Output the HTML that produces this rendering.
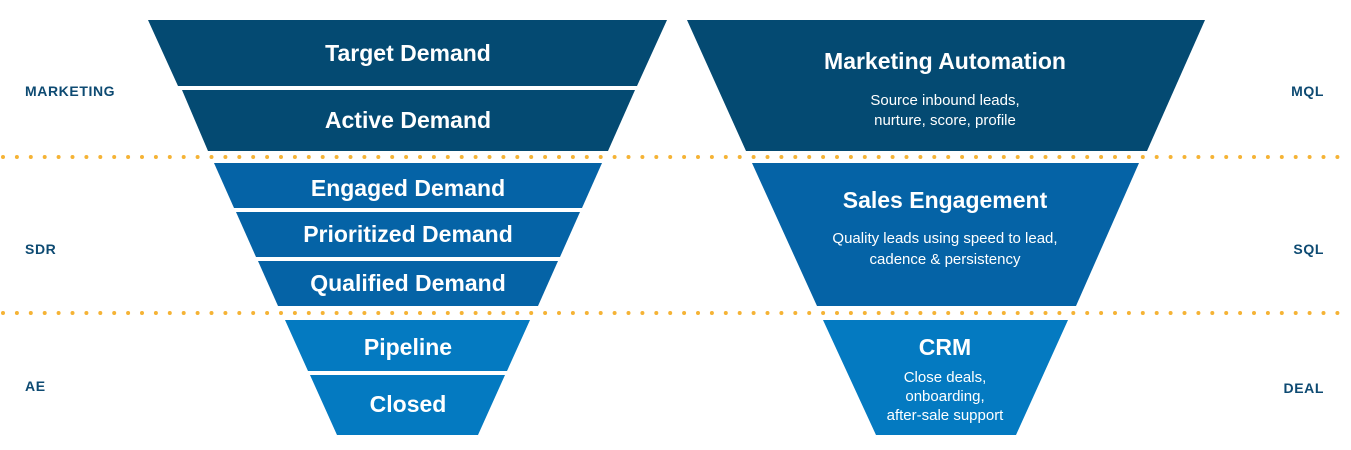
<!DOCTYPE html>
<html><head><meta charset="utf-8"><style>
html,body{margin:0;padding:0;background:#fff;}
svg{display:block;}
text{font-family:"Liberation Sans",sans-serif;fill:#fff;text-anchor:middle;}
.t{font-weight:bold;font-size:23px;}
.s{font-size:15px;}
.l{fill:#0d4a72;font-weight:bold;font-size:14px;letter-spacing:0.6px;}
</style></head><body>
<svg width="1351" height="450" viewBox="0 0 1351 450">
<line x1="3" y1="157" x2="1351" y2="157" stroke="#f5b335" stroke-width="4" stroke-linecap="round" stroke-dasharray="0 13.9"/>
<line x1="3" y1="313" x2="1351" y2="313" stroke="#f5b335" stroke-width="4" stroke-linecap="round" stroke-dasharray="0 13.9"/>

<polygon points="148,20 667,20 637,86 178,86" fill="#044a72"/>
<polygon points="182,90 635,90 608,151 208,151" fill="#044a72"/>
<polygon points="214,163 602,163 582,208 234,208" fill="#0563a6"/>
<polygon points="236,212 580,212 560,257 256,257" fill="#0563a6"/>
<polygon points="258,261 558,261 538,306 278,306" fill="#0563a6"/>
<polygon points="285,320 530,320 507,371 308,371" fill="#047ac1"/>
<polygon points="310,375 505,375 478,435 337,435" fill="#047ac1"/>

<text class="t" x="408" y="61">Target Demand</text>
<text class="t" x="408" y="128">Active Demand</text>
<text class="t" x="408" y="196">Engaged Demand</text>
<text class="t" x="408" y="242">Prioritized Demand</text>
<text class="t" x="408" y="291">Qualified Demand</text>
<text class="t" x="408" y="355">Pipeline</text>
<text class="t" x="408" y="412">Closed</text>

<polygon points="687,20 1205,20 1147,151 746,151" fill="#044a72"/>
<polygon points="752,163 1139,163 1076,306 817,306" fill="#0563a6"/>
<polygon points="823,320 1068,320 1016,435 876,435" fill="#047ac1"/>

<text class="t" x="945" y="69">Marketing Automation</text>
<text class="s" x="945" y="105">Source inbound leads,</text>
<text class="s" x="945" y="125">nurture, score, profile</text>
<text class="t" x="945" y="208">Sales Engagement</text>
<text class="s" x="945" y="243">Quality leads using speed to lead,</text>
<text class="s" x="945" y="264">cadence &amp; persistency</text>
<text class="t" x="945" y="355">CRM</text>
<text class="s" x="945" y="382">Close deals,</text>
<text class="s" x="945" y="401">onboarding,</text>
<text class="s" x="945" y="420">after-sale support</text>

<text class="l" x="25" y="96" style="text-anchor:start">MARKETING</text>
<text class="l" x="25" y="254" style="text-anchor:start">SDR</text>
<text class="l" x="25" y="391" style="text-anchor:start">AE</text>
<text class="l" x="1324" y="96" style="text-anchor:end">MQL</text>
<text class="l" x="1324" y="254" style="text-anchor:end">SQL</text>
<text class="l" x="1324" y="393" style="text-anchor:end">DEAL</text>
</svg>
</body></html>
